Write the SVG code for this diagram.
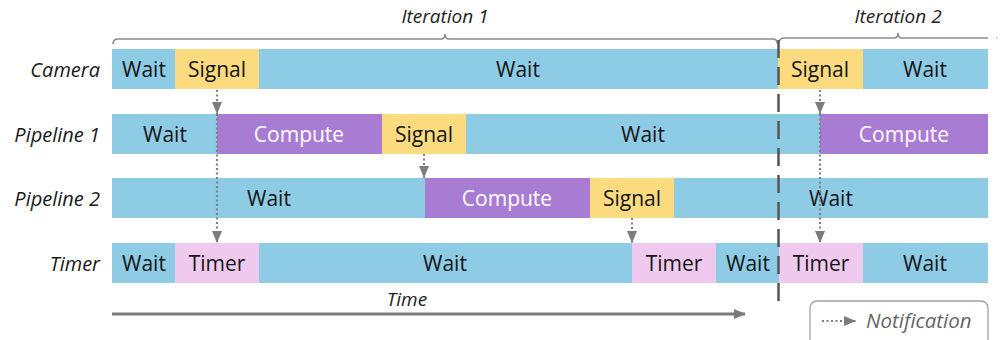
<svg xmlns="http://www.w3.org/2000/svg" width="1003" height="340" viewBox="0 0 1003 340">
  <style>
    .lane { font-family: "Open Sans", "Liberation Sans", sans-serif; font-style: italic; font-size: 20px; fill: #1a1a1a; text-anchor: end; dominant-baseline: central; }
    .lbl { font-family: "Open Sans", "Liberation Sans", sans-serif; font-size: 21px; fill: #151515; text-anchor: middle; dominant-baseline: central; }
    .lbl.light { fill: #ffffff; }
    .it { font-family: "Open Sans", "Liberation Sans", sans-serif; font-style: italic; font-size: 19px; fill: #222; text-anchor: middle; }
    .wait { fill: #8ECCE6; }
    .signal { fill: #FCDB80; }
    .compute { fill: #A87CD3; }
    .timer { fill: #F0C9EE; }
    .brace { fill: none; stroke: #8a8a8a; stroke-width: 1.5; }
    .note { fill: none; stroke: #808080; stroke-width: 2.2; stroke-dasharray: 2 2.5; }
  </style>
  <defs>
    <marker id="tip" viewBox="0 0 12 10" refX="12" refY="5" markerWidth="12" markerHeight="10" markerUnits="userSpaceOnUse" orient="auto">
      <path d="M0,0 L12,5 L0,10 Z" fill="#7c7c7c"/>
    </marker>
    <marker id="timeTip" viewBox="0 0 12 10" refX="11" refY="5" markerWidth="12" markerHeight="10" markerUnits="userSpaceOnUse" orient="auto">
      <path d="M0,0 L12,5 L0,10 Z" fill="#7a7a7a"/>
    </marker>
  </defs>

  <!-- iteration braces -->
  <g id="iteration-1">
    <path class="brace" d="M113,44 Q113,39 118,39 L441,39 Q445,39 445,34 Q445,39 449,39 L773,39 Q777,39 777.5,44"/>
    <text class="it" x="445" y="23">Iteration 1</text>
  </g>
  <g id="iteration-2">
    <path class="brace" d="M778.5,44 Q779,38 784,38 L894,38 Q898,38 898,33 Q898,38 902,38 L988,38"/>
    <circle cx="997" cy="38" r="0.8" fill="#aaa"/>
    <text class="it" x="898" y="23">Iteration 2</text>
  </g>

  <!-- lane labels -->
  <g id="lane-labels">
    <text class="lane" x="100" y="69">Camera</text>
    <text class="lane" x="100" y="134">Pipeline 1</text>
    <text class="lane" x="100" y="198">Pipeline 2</text>
    <text class="lane" x="100" y="263">Timer</text>
  </g>

  <!-- Camera lane -->
  <g id="camera">
    <rect class="wait" x="112" y="49" width="63" height="40"/>
    <rect class="signal" x="175" y="49" width="84" height="40"/>
    <rect class="wait" x="259" y="49" width="519" height="40"/>
    <rect class="signal" x="778" y="49" width="85" height="40"/>
    <rect class="wait" x="863" y="49" width="125" height="40"/>
    <text class="lbl" x="144" y="69">Wait</text>
    <text class="lbl" x="217" y="69">Signal</text>
    <text class="lbl" x="518" y="69">Wait</text>
    <text class="lbl" x="820" y="69">Signal</text>
    <text class="lbl" x="925" y="69">Wait</text>
  </g>

  <!-- Pipeline 1 lane -->
  <g id="pipeline-1">
    <rect class="wait" x="112" y="114" width="105" height="40"/>
    <rect class="compute" x="217" y="114" width="165" height="40"/>
    <rect class="signal" x="382" y="114" width="84" height="40"/>
    <rect class="wait" x="466" y="114" width="354" height="40"/>
    <rect class="compute" x="820" y="114" width="168" height="40"/>
    <text class="lbl" x="165" y="134">Wait</text>
    <text class="lbl light" x="299" y="134">Compute</text>
    <text class="lbl" x="424" y="134">Signal</text>
    <text class="lbl" x="643" y="134">Wait</text>
    <text class="lbl light" x="904" y="134">Compute</text>
  </g>

  <!-- Pipeline 2 lane -->
  <g id="pipeline-2">
    <rect class="wait" x="112" y="178" width="313" height="40"/>
    <rect class="compute" x="425" y="178" width="165" height="40"/>
    <rect class="signal" x="590" y="178" width="84" height="40"/>
    <rect class="wait" x="674" y="178" width="314" height="40"/>
    <text class="lbl" x="269" y="198">Wait</text>
    <text class="lbl light" x="507" y="198">Compute</text>
    <text class="lbl" x="632" y="198">Signal</text>
    <text class="lbl" x="831" y="198">Wait</text>
  </g>

  <!-- Timer lane -->
  <g id="timer">
    <rect class="wait" x="112" y="243" width="63" height="40"/>
    <rect class="timer" x="175" y="243" width="84" height="40"/>
    <rect class="wait" x="259" y="243" width="373" height="40"/>
    <rect class="timer" x="632" y="243" width="84" height="40"/>
    <rect class="wait" x="716" y="243" width="63" height="40"/>
    <rect class="timer" x="779" y="243" width="84" height="40"/>
    <rect class="wait" x="863" y="243" width="125" height="40"/>
    <text class="lbl" x="144" y="263">Wait</text>
    <text class="lbl" x="217" y="263">Timer</text>
    <text class="lbl" x="445" y="263">Wait</text>
    <text class="lbl" x="674" y="263">Timer</text>
    <text class="lbl" x="748" y="263">Wait</text>
    <text class="lbl" x="821" y="263">Timer</text>
    <text class="lbl" x="925" y="263">Wait</text>
  </g>

  <!-- iteration boundary -->
  <g id="boundary">
    <line x1="778.5" y1="40" x2="778.5" y2="301" stroke="#555" stroke-width="2.5" stroke-dasharray="18 9"/>
  </g>

  <!-- notification connectors -->
  <g id="connectors">
    <line class="note" x1="217" y1="90" x2="217" y2="114" marker-end="url(#tip)"/>
    <line class="note" x1="217" y1="114" x2="217" y2="243" marker-end="url(#tip)"/>
    <line class="note" x1="424" y1="154" x2="424" y2="178" marker-end="url(#tip)"/>
    <line class="note" x1="632" y1="218" x2="632" y2="243" marker-end="url(#tip)"/>
    <line class="note" x1="820" y1="90" x2="820" y2="114" marker-end="url(#tip)"/>
    <line class="note" x1="820" y1="114" x2="820" y2="243" marker-end="url(#tip)"/>
  </g>

  <!-- time axis -->
  <g id="time-axis">
    <line x1="112" y1="314" x2="745" y2="314" stroke="#7a7a7a" stroke-width="3" marker-end="url(#timeTip)"/>
    <text class="it" x="407" y="306">Time</text>
  </g>

  <!-- legend -->
  <g id="legend">
    <rect x="810" y="301" width="178" height="46" rx="7" fill="#fff" stroke="#a0a0a0" stroke-width="1.3"/>
    <line class="note" x1="822" y1="321" x2="856" y2="321" marker-end="url(#tip)"/>
    <text x="866" y="328" font-family="Open Sans, Liberation Sans, sans-serif" font-style="italic" font-size="20.5" fill="#666">Notification</text>
  </g>
</svg>
